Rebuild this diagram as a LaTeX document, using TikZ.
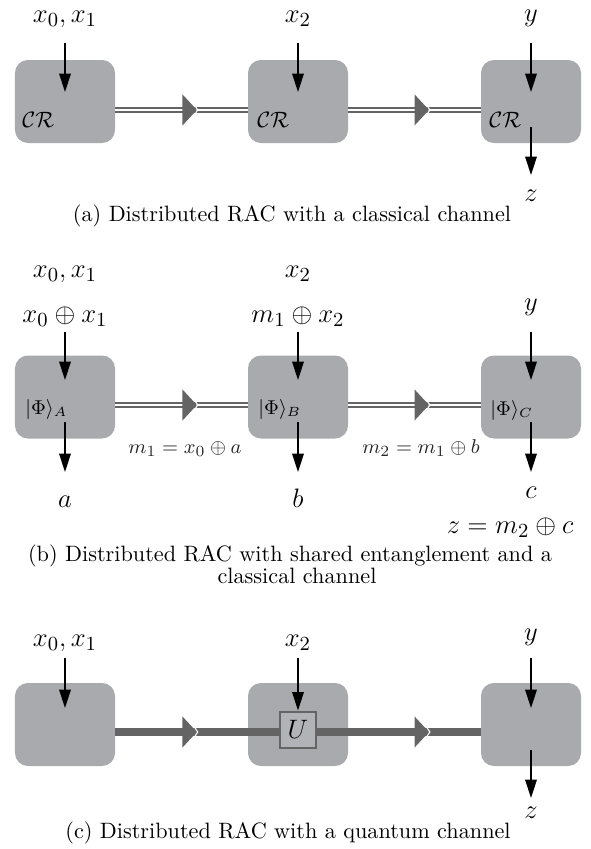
\documentclass[tikz,border=0pt]{standalone}
\usetikzlibrary{arrows.meta,decorations.markings,calc}
\definecolor{boxgray}{RGB}{169,170,174}
\definecolor{chgray}{RGB}{100,100,100}
\definecolor{ugray}{RGB}{178,179,182}
\newcommand\chanhead{%
  \fill[chgray] (0,7pt) -- (6.5pt,0) -- (0,-7pt) -- cycle;
  \fill[white] (5.4pt,2.6pt) -- (7.2pt,0) -- (5.4pt,-2.6pt) -- (4.9pt,-2.6pt)
    -- (6.6pt,0) -- (4.9pt,2.6pt) -- cycle;}
\tikzset{
  party/.style={fill=boxgray, rounded corners=5.8pt, minimum width=45pt,
    minimum height=37.35pt, inner sep=0pt},
  lbl/.style={font=\fontsize{12.5}{15}\selectfont, inner sep=0pt, anchor=base},
  msglbl/.style={font=\fontsize{9.3}{11}\selectfont, inner sep=0pt, anchor=base, text=black!85},
  philbl/.style={font=\fontsize{9}{11}\selectfont, inner sep=0pt, anchor=base west},
  crlbl/.style={font=\fontsize{10}{12}\selectfont, inner sep=0pt, anchor=base west},
  caplbl/.style={font=\fontsize{10}{12}\selectfont, inner sep=0pt, anchor=base},
  io/.style={line width=0.8pt, -{Triangle[length=8.3pt,width=5.2pt]}},
  chan/.style={draw=chgray, line width=0.9pt, double=white, double distance=1.3pt,
    postaction={decorate, decoration={markings, mark=at position #1 with {\chanhead}}}},
  qchan/.style={draw=chgray, line width=3.6pt,
    postaction={decorate, decoration={markings, mark=at position #1 with {\chanhead}}}},
}
\begin{document}
\begin{tikzpicture}[x=0.45pt,y=-0.45pt]
\useasboundingbox (0,0) rectangle (591,849);
% ---------------- (a) ----------------
\node[party] (a1) at (65,101.5) {};
\node[party] (a2) at (298,101.5) {};
\node[party] (a3) at (531,101.5) {};
\node[crlbl] (acr1) at (22,127) {$\mathcal{CR}$};
\node[crlbl] (acr2) at (257,127) {$\mathcal{CR}$};
\node[crlbl] (acr3) at (489,127) {$\mathcal{CR}$};
\node[lbl] (ax01) at (65,23) {$x_0, x_1$};
\node[lbl] (ax2) at (298,23) {$x_2$};
\node[lbl] (ay) at (531,21) {$y$};
\node[lbl] (az) at (531,201) {$z$};
\coordinate (ai1s) at (65,43);  \coordinate (ai1e) at (65,92);
\coordinate (ai2s) at (298,43); \coordinate (ai2e) at (298,92);
\coordinate (ai3s) at (531,43); \coordinate (ai3e) at (531,92);
\coordinate (ao3s) at (531,127); \coordinate (ao3e) at (531,175);
\draw[io] (ai1s) -- (ai1e);
\draw[io] (ai2s) -- (ai2e);
\draw[io] (ai3s) -- (ai3e);
\draw[io] (ao3s) -- (ao3e);
\draw[chan=30.15pt] ([yshift=-3.8pt]a1.east) -- ([yshift=-3.8pt]a2.west);
\draw[chan=-29.7pt] ([yshift=-3.8pt]a2.east) -- ([yshift=-3.8pt]a3.west);
\node[caplbl] (capa) at (292,221) {(a) Distributed RAC with a classical channel};
% ---------------- (b) ----------------
\node[party] (b1) at (65,397) {};
\node[party] (b2) at (298,397) {};
\node[party] (b3) at (531,397) {};
\node[philbl] (bphi1) at (25,414) {$|\Phi\rangle_A$};
\node[philbl] (bphi2) at (258,414) {$|\Phi\rangle_B$};
\node[philbl] (bphi3) at (490,415) {$|\Phi\rangle_C$};
\node[lbl] (bx01) at (65,277) {$x_0, x_1$};
\node[lbl] (bxor1) at (65,322) {$x_0 \oplus x_1$};
\node[lbl] (bx2) at (298,277) {$x_2$};
\node[lbl] (bxor2) at (298,322) {$m_1 \oplus x_2$};
\node[lbl] (by) at (531,310) {$y$};
\node[lbl] (ba) at (65,507) {$a$};
\node[lbl] (bb) at (298,507) {$b$};
\node[lbl] (bc) at (531,498) {$c$};
\node[lbl] (bz) at (510,533) {$z = m_2 \oplus c$};
\node[msglbl] (bm1) at (185,453) {$m_1 = x_0 \oplus a$};
\node[msglbl] (bm2) at (421,453) {$m_2 = m_1 \oplus b$};
\coordinate (bi1s) at (65,332);  \coordinate (bi1e) at (65,380);
\coordinate (bi2s) at (298,332); \coordinate (bi2e) at (298,380);
\coordinate (bi3s) at (531,332); \coordinate (bi3e) at (531,380);
\coordinate (bo1s) at (65,422);  \coordinate (bo1e) at (65,472);
\coordinate (bo2s) at (298,422); \coordinate (bo2e) at (298,472);
\coordinate (bo3s) at (531,422); \coordinate (bo3e) at (531,472);
\draw[io] (bi1s) -- (bi1e);
\draw[io] (bi2s) -- (bi2e);
\draw[io] (bi3s) -- (bi3e);
\draw[io] (bo1s) -- (bo1e);
\draw[io] (bo2s) -- (bo2e);
\draw[io] (bo3s) -- (bo3e);
\draw[chan=30.15pt] ([yshift=-3.6pt]b1.east) -- ([yshift=-3.6pt]b2.west);
\draw[chan=-29.7pt] ([yshift=-3.6pt]b2.east) -- ([yshift=-3.6pt]b3.west);
\node[caplbl] (capb1) at (290,561) {(b) Distributed RAC with shared entanglement and a};
\node[caplbl] (capb2) at (297,583) {classical channel};
% ---------------- (c) ----------------
\node[party] (c1) at (65,724.5) {};
\node[party] (c2) at (298,724.5) {};
\node[party] (c3) at (531,724.5) {};
\node[draw=chgray, line width=0.9pt, fill=ugray, minimum size=16.2pt, inner sep=0pt,
  font=\fontsize{12.5}{15}\selectfont] (U) at (298,729.5) {$U$};
\node[lbl] (cx01) at (65,646) {$x_0, x_1$};
\node[lbl] (cx2) at (298,646) {$x_2$};
\node[lbl] (cy) at (531,640) {$y$};
\node[lbl] (cz) at (531,818) {$z$};
\coordinate (qy) at (0,732);
\coordinate (ci1s) at (65,658);  \coordinate (ci1e) at (65,708);
\coordinate (ci3s) at (531,658); \coordinate (ci3e) at (531,708);
\coordinate (co3s) at (531,750); \coordinate (co3e) at (531,798);
\coordinate (ci2s) at (298,658);
\draw[io] (ci1s) -- (ci1e);
\draw[io] (ci2s) -- (U.north);
\draw[io] (ci3s) -- (ci3e);
\draw[io] (co3s) -- (co3e);
\draw[qchan=30.15pt] (c1.east |- qy) -- (U.west |- qy);
\draw[qchan=-29.7pt] (U.east |- qy) -- (c3.west |- qy);
\node[caplbl] (capc) at (288,838) {(c) Distributed RAC with a quantum channel};
\end{tikzpicture}
\end{document}
